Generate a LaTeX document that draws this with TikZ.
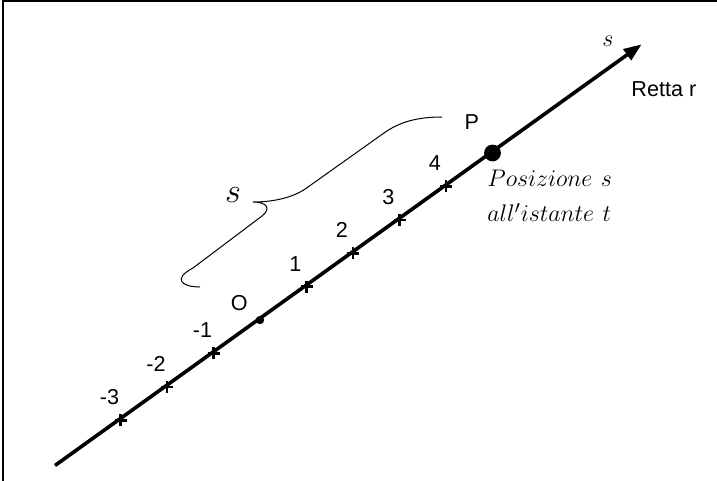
\documentclass[tikz,border=0pt]{standalone}
\usepackage{fontspec}
\setsansfont{Liberation Sans}
\usetikzlibrary{arrows.meta}

\begin{document}
\begin{tikzpicture}[x=0.5pt, y=-0.5pt,
    axis/.style={line width=1.8pt, -{Triangle[length=9pt,width=6.5pt]}},
    tickmark/.style={line width=1.3pt},
    lab/.style={font=\sffamily\fontsize{10.8}{13}\selectfont, inner sep=0pt},
    mlab/.style={font=\fontsize{13}{17.5}\selectfont, inner sep=0pt}
  ]
  \useasboundingbox (0,0) rectangle (717,481);
  % frame, top and left edges
  \draw[line width=1pt] (3,481) -- (3,1.5) -- (717,1.5);

  % the line r
  \coordinate (start) at (55,465.5);
  \coordinate (tip) at (641.7,44.3);
  \coordinate (O) at (260,320);
  \coordinate (P) at (492.5,153);
  \draw[axis] (start) -- (tip);

  % ticks and their numbers
  \foreach \k in {-3,-2,-1,1,2,3,4} {
    \coordinate (t\k) at ({260+46.5*\k},{320-33.4*\k});
    \draw[tickmark] ([xshift=-3pt]t\k) -- ([xshift=3pt]t\k)
                    ([yshift=-3pt]t\k) -- ([yshift=3pt]t\k);
    \node[lab] (n\k) at ([shift={(-11,-23)}]t\k) {\k};
  }

  \fill (O) circle (2.1pt);
  \fill (P) circle (4.2pt);
  \node[lab] (lO) at (239.3,302.7) {O};
  \node[lab] (lP) at (471.7,121.7) {P};

  \node[mlab] (sa) at (608,41) {$s$};
  \node[lab, anchor=west] (retta) at (631,89) {Retta r};
  \node[mlab, anchor=north west, align=left] (pos) at (487,170)
    {$Posizione\ s$\\$all'istante\ t$};

  % brace from O to P
  \draw[line width=0.5pt] (200,287) .. controls (182,287) and (172,279) .. (193,268)
    -- (262,216) .. controls (272,208) and (266,202) .. (253,202)
    .. controls (275,202) and (295,197) .. (308,187)
    -- (384,133) .. controls (398,123) and (415,117) .. (442,117);
  \node[font=\fontsize{16}{18}\selectfont, inner sep=0pt] (sb) at (233,195) {$s$};
\end{tikzpicture}
\end{document}
